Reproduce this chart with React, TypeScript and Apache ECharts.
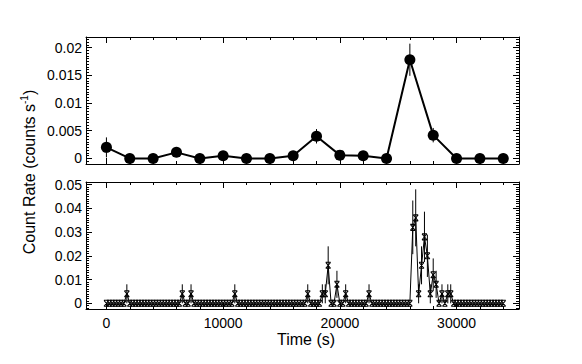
import React, { useEffect, useRef } from "react";
import * as echarts from "echarts";

// ---- Data ----
// Top panel: 2000 s bins
const topTime = [0, 2000, 4000, 6000, 8000, 10000, 12000, 14000, 16000, 18000, 20000, 22000, 24000, 26000, 28000, 30000, 32000, 34000];
const topRate = [0.002, 0, 0, 0.0011, 0, 0.0005, 0, 0, 0.0005, 0.004, 0.0006, 0.0005, 0, 0.0178, 0.0042, 0, 0, 0];
const topErr = [0.0018, 0, 0, 0.0008, 0, 0.0005, 0, 0, 0.0005, 0.0013, 0.0006, 0.0005, 0, 0.0029, 0.0013, 0, 0, 0];

// Bottom panel: 250 s bins, starting at 0 s
const binWidth = 250;
const bottomRate = [
  0, 0, 0, 0, 0, 0, 0, 0.004, 0, 0,
  0, 0, 0, 0, 0, 0, 0, 0, 0, 0,
  0, 0, 0, 0, 0, 0, 0.004, 0, 0, 0.004,
  0, 0, 0, 0, 0, 0, 0, 0, 0, 0,
  0, 0, 0, 0, 0.004, 0, 0, 0, 0, 0,
  0, 0, 0, 0, 0, 0, 0, 0, 0, 0,
  0, 0, 0, 0, 0, 0, 0, 0, 0, 0.004,
  0, 0, 0, 0, 0.004, 0.004, 0.016, 0, 0, 0.008,
  0, 0, 0.004, 0, 0, 0, 0, 0, 0, 0,
  0.004, 0, 0, 0, 0, 0, 0, 0, 0, 0,
  0, 0, 0, 0, 0, 0.032, 0.036, 0.004, 0.016, 0.028,
  0.02, 0.004, 0.012, 0.008, 0, 0.004, 0, 0.004, 0.004, 0,
  0, 0, 0, 0, 0, 0, 0, 0, 0, 0,
  0, 0, 0, 0, 0, 0, 0,
];
const bottomErr = [
  0, 0, 0, 0, 0, 0, 0, 0.004, 0, 0,
  0, 0, 0, 0, 0, 0, 0, 0, 0, 0,
  0, 0, 0, 0, 0, 0, 0.004, 0, 0, 0.004,
  0, 0, 0, 0, 0, 0, 0, 0, 0, 0,
  0, 0, 0, 0, 0.004, 0, 0, 0, 0, 0,
  0, 0, 0, 0, 0, 0, 0, 0, 0, 0,
  0, 0, 0, 0, 0, 0, 0, 0, 0, 0.004,
  0, 0, 0, 0, 0.004, 0.004, 0.008, 0, 0, 0.0057,
  0, 0, 0.004, 0, 0, 0, 0, 0, 0, 0,
  0.004, 0, 0, 0, 0, 0, 0, 0, 0, 0,
  0, 0, 0, 0, 0, 0.0113, 0.012, 0.004, 0.008, 0.0106,
  0.0089, 0.004, 0.0069, 0.0057, 0, 0.004, 0, 0.004, 0.004, 0,
  0, 0, 0, 0, 0, 0, 0, 0, 0, 0,
  0, 0, 0, 0, 0, 0, 0,
];

const xMajorTicks = [0, 10000, 20000, 30000];
const topYMajorTicks = [0, 0.005, 0.01, 0.015, 0.02];
const bottomYMajorTicks = [0, 0.01, 0.02, 0.03, 0.04, 0.05];

const FONT = "'Liberation Sans', Arial, Helvetica, sans-serif";
const XMIN = -1750;
const XMAX = 35350;

function range(start: number, step: number, end: number, skip: number[]) {
  const out: number[] = [];
  for (let v = start; v <= end + step * 1e-6; v += step) {
    const r = Math.round(v * 1e6) / 1e6;
    if (!skip.some((s) => Math.abs(s - r) < step * 1e-3)) out.push(r);
  }
  return out;
}

const xMinor = range(0, 2000, 34000, xMajorTicks);
const topYMinor = range(-0.0005, 0.0005, 0.0215, topYMajorTicks);
const bottomYMinor = range(-0.002, 0.001, 0.051, bottomYMajorTicks);

function fmt(v: number) {
  if (v === 0) return "0";
  return String(Math.round(v * 1e6) / 1e6);
}

function xAxes(gridIndex: number, labels: boolean) {
  const base = {
    type: "value",
    gridIndex,
    min: XMIN,
    max: XMAX,
    splitLine: { show: false },
  };
  const mk = (position: string, major: boolean, showLabel: boolean) => ({
    ...base,
    position,
    axisLine: { show: major, onZero: false, lineStyle: { color: "#000", width: 1 } },
    axisTick: {
      show: true,
      inside: true,
      length: major ? 6 : 3,
      customValues: major ? xMajorTicks : xMinor,
      lineStyle: { color: "#000", width: 1 },
    },
    axisLabel: {
      show: showLabel,
      customValues: xMajorTicks,
      formatter: (v: number) => String(v),
      color: "#000",
      fontSize: 14,
      fontFamily: FONT,
      margin: 7,
    },
  });
  return [mk("bottom", true, labels), mk("bottom", false, false), mk("top", true, false), mk("top", false, false)];
}

function yAxes(gridIndex: number, min: number, max: number, majors: number[], minors: number[]) {
  const base = { type: "value", gridIndex, min, max, splitLine: { show: false } };
  const mk = (position: string, major: boolean, showLabel: boolean) => ({
    ...base,
    position,
    axisLine: { show: major, onZero: false, lineStyle: { color: "#000", width: 1 } },
    axisTick: {
      show: true,
      inside: true,
      length: major ? 6 : 3,
      customValues: major ? majors : minors,
      lineStyle: { color: "#000", width: 1 },
    },
    axisLabel: {
      show: showLabel,
      customValues: majors,
      formatter: fmt,
      color: "#000",
      fontSize: 14,
      fontFamily: FONT,
      margin: 4,
    },
  });
  return [mk("left", true, true), mk("left", false, false), mk("right", true, false), mk("right", false, false)];
}

const errRender = (params: any, api: any) => {
  const x = api.value(0);
  const p1 = api.coord([x, api.value(1)]);
  const p2 = api.coord([x, api.value(2)]);
  return {
    type: "line",
    shape: { x1: p1[0], y1: p1[1], x2: p2[0], y2: p2[1] },
    style: { stroke: "#000", lineWidth: 1 },
  };
};

export default function App() {
  const ref = useRef<HTMLDivElement>(null);
  useEffect(() => {
    if (!ref.current) return;
    const chart = echarts.init(ref.current, undefined, { renderer: "svg" });

    const topLine = topTime.map((t, i) => [t, topRate[i]]);
    const topErrData = topTime
      .map((t, i) => [t, topRate[i] - topErr[i], topRate[i] + topErr[i], topErr[i]])
      .filter((d) => d[3] > 0);
    const bottomTime = bottomRate.map((_, i) => i * binWidth);
    const bottomLine = bottomTime.map((t, i) => [t, bottomRate[i]]);
    const bottomErrData = bottomTime
      .map((t, i) => [t, bottomRate[i] - bottomErr[i], bottomRate[i] + bottomErr[i], bottomErr[i]])
      .filter((d) => d[3] > 0);

    const option: any = {
      animation: false,
      backgroundColor: "#fff",
      grid: [
        { left: 86, top: 37, width: 433, height: 127 },
        { left: 86, top: 182, width: 433, height: 127 },
      ],
      xAxis: [...xAxes(0, false), ...xAxes(1, true)],
      yAxis: [
        ...yAxes(0, -0.001, 0.0219, topYMajorTicks, topYMinor),
        ...yAxes(1, -0.0024, 0.0511, bottomYMajorTicks, bottomYMinor),
      ],
      series: [
        {
          type: "custom",
          xAxisIndex: 0,
          yAxisIndex: 0,
          renderItem: errRender,
          encode: { x: 0, y: [1, 2] },
          data: topErrData,
          z: 2,
        },
        {
          type: "line",
          xAxisIndex: 0,
          yAxisIndex: 0,
          data: topLine,
          symbol: "circle",
          symbolSize: 11,
          showAllSymbol: true,
          lineStyle: { color: "#000", width: 2 },
          itemStyle: { color: "#000" },
          z: 3,
        },
        {
          type: "custom",
          xAxisIndex: 4,
          yAxisIndex: 4,
          renderItem: errRender,
          encode: { x: 0, y: [1, 2] },
          data: bottomErrData,
          z: 2,
        },
        {
          type: "line",
          xAxisIndex: 4,
          yAxisIndex: 4,
          data: bottomLine,
          symbol: "path://M0 0L10 10M10 0L0 10M0 0L10 0M0 10L10 10",
          symbolSize: [5, 6],
          showAllSymbol: true,
          lineStyle: { color: "#000", width: 1 },
          itemStyle: { color: "rgba(0,0,0,0)", borderColor: "#000", borderWidth: 1 },
          z: 3,
        },
      ],
      graphic: [
        {
          type: "text",
          x: 29,
          y: 172,
          rotation: Math.PI / 2,
          style: {
            text: "{a|Count Rate (counts s}{b|-1}{a|)}",
            align: "center",
            verticalAlign: "middle",
            rich: {
              a: { fontSize: 16, fontFamily: FONT, fill: "#000", lineHeight: 19 },
              b: { fontSize: 10, fontFamily: FONT, fill: "#000", verticalAlign: "top", lineHeight: 19, padding: [0, 0, 8, 0] },
            },
          },
        },
        {
          type: "text",
          x: 306,
          y: 339,
          style: {
            text: "Time (s)",
            align: "center",
            verticalAlign: "middle",
            fontSize: 16,
            fontFamily: FONT,
            fill: "#000",
          },
        },
      ],
    };
    chart.setOption(option);
    return () => chart.dispose();
  }, []);
  return (
    <div
      ref={ref}
      style={{ position: "fixed", left: 0, top: 0, width: 582, height: 364, background: "#fff" }}
    />
  );
}
